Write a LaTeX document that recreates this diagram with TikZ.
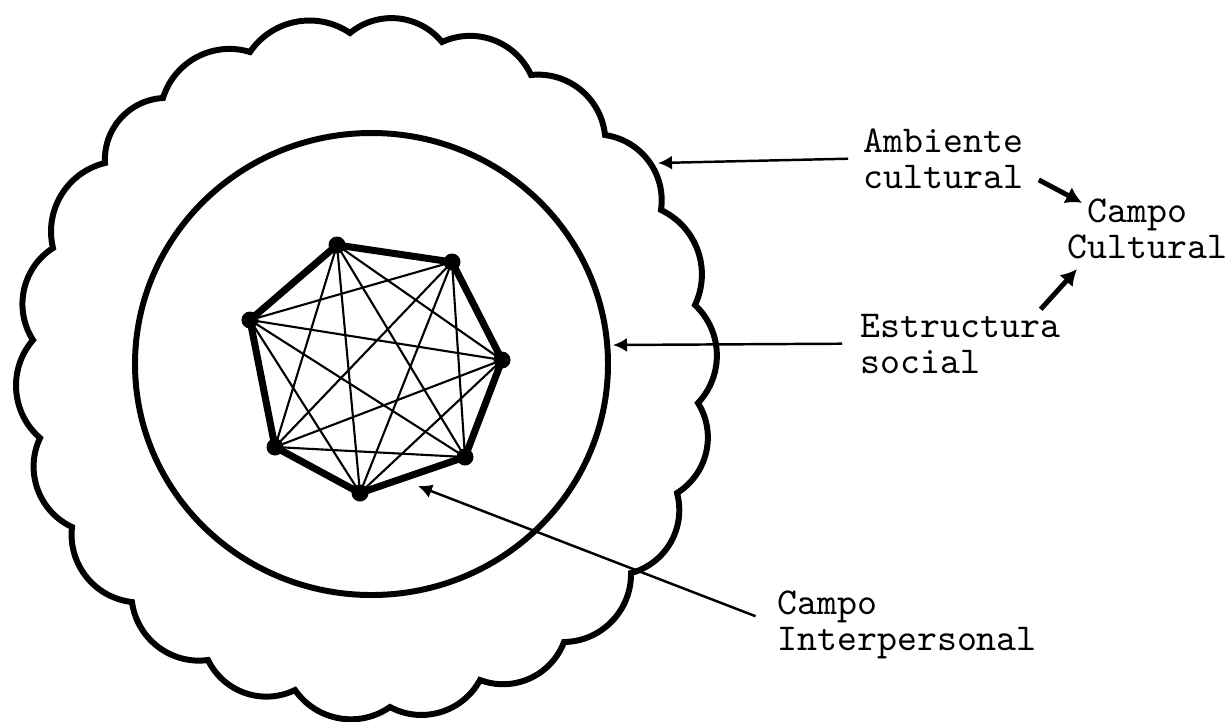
\documentclass[tikz,border=0pt]{standalone}
\usepackage{tikz}
\usetikzlibrary{arrows.meta,positioning}

\begin{document}
\begin{tikzpicture}[
  outline/.style={line width=1.7pt},
  edge/.style={line width=2pt,line join=round},
  chord/.style={line width=0.6pt},
  vert/.style={circle,fill,inner sep=0pt,minimum size=1.7mm},
  tag/.style={font=\fontsize{10.8}{10.2}\selectfont\ttfamily,align=left,inner sep=0pt},
  pointer/.style={line width=0.7pt,-{Latex[length=1.4mm,width=1.4mm]}},
  bigpointer/.style={line width=1.4pt,-{Latex[length=1.6mm,width=1.8mm]}}
]
  \useasboundingbox (0,0) rectangle (12.3,-7.21);
  % Cloud (ambiente cultural)
  \draw[outline] (3.50,-0.33) to[bend left=45] (4.42,-0.42) to[bend left=45] (5.31,-0.75)
    to[bend left=45] (6.05,-1.35) to[bend left=45] (6.61,-2.10) to[bend left=45] (6.95,-3.05)
    to[bend left=45] (6.98,-4.03) to[bend left=45] (6.77,-4.93) to[bend left=45] (6.31,-5.73)
    to[bend left=45] (5.64,-6.42) to[bend left=45] (4.80,-6.80) to[bend left=45] (3.90,-7.07)
    to[bend left=45] (2.95,-6.90) to[bend left=45] (2.08,-6.60) to[bend left=45] (1.32,-6.02)
    to[bend left=45] (0.72,-5.27) to[bend left=45] (0.40,-4.38) to[bend left=45] (0.33,-3.40)
    to[bend left=45] (0.53,-2.48) to[bend left=45] (1.05,-1.63) to[bend left=45] (1.63,-0.98)
    to[bend left=45] (2.50,-0.52) to[bend left=45] (3.50,-0.33) -- cycle;
  % Inner circle (estructura social)
  \draw[outline] (3.715,-3.64) ellipse [x radius=2.365,y radius=2.31];
  % Heptagon corners
  \coordinate (v1) at (3.37,-2.45);
  \coordinate (v2) at (4.52,-2.62);
  \coordinate (v3) at (5.02,-3.60);
  \coordinate (v4) at (4.65,-4.57);
  \coordinate (v5) at (3.60,-4.93);
  \coordinate (v6) at (2.75,-4.47);
  \coordinate (v7) at (2.50,-3.20);
  % Every pair joined
  \draw[chord] (v1) -- (v3) (v1) -- (v4) (v1) -- (v5) (v1) -- (v6);
  \draw[chord] (v2) -- (v4) (v2) -- (v5) (v2) -- (v6) (v2) -- (v7);
  \draw[chord] (v3) -- (v5) (v3) -- (v6) (v3) -- (v7);
  \draw[chord] (v4) -- (v6) (v4) -- (v7) (v5) -- (v7);
  \draw[edge] (v1) -- (v2) -- (v3) -- (v4) -- (v5) -- (v6) -- (v7) -- cycle;
  \node[vert] at (v1) {};
  \node[vert] at (v2) {};
  \node[vert] at (v3) {};
  \node[vert] at (v4) {};
  \node[vert] at (v5) {};
  \node[vert] at (v6) {};
  \node[vert] at (v7) {};
  % Labels (anchored on the baseline of the last line)
  \node[tag,anchor=base west] (ambiente) at (8.63,-1.88) {Ambiente\\cultural};
  \node[tag,anchor=base west] (campocult) at (10.67,-2.58) {\hspace*{2mm}Campo\\Cultural};
  \node[tag,anchor=base west] (estructura) at (8.60,-3.73) {Estructura\\social};
  \node[tag,anchor=base west] (interp) at (7.77,-6.50) {Campo\\Interpersonal};
  % Arrow ends on the drawing
  \coordinate (cloudpt) at (6.58,-1.63);
  \coordinate (circlept) at (6.13,-3.45);
  \coordinate (heptpt) at (4.18,-4.86);
  % Arrows
  \draw[pointer,shorten <=1.5mm] (ambiente.west) -- (cloudpt);
  \draw[pointer,shorten <=1.8mm] (estructura.west) -- (circlept);
  \draw[pointer,shorten <=2.3mm] (interp.west) -- (heptpt);
  \draw[bigpointer] ([xshift=1.5mm,yshift=-2.15mm]ambiente.east) -- ([xshift=1.5mm,yshift=-0.5mm]campocult.north west);
  \draw[bigpointer] ([xshift=-2mm,yshift=0.4mm]estructura.north east) -- ([xshift=1mm,yshift=-1mm]campocult.south west);
\end{tikzpicture}
\end{document}
